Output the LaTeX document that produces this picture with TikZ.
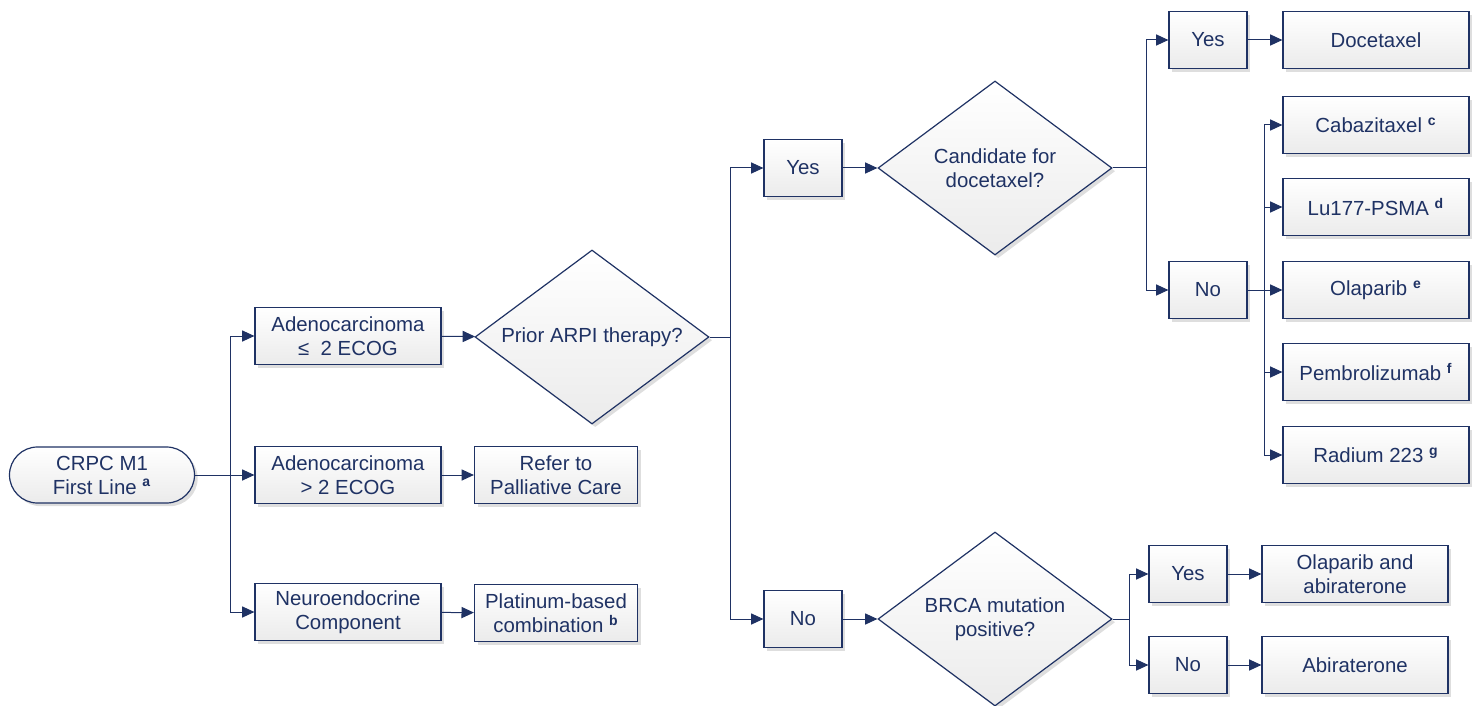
\documentclass[tikz,border=0pt]{standalone}
\usepackage{fontspec}
\setmainfont{Liberation Sans}
\usepackage{xcolor}
\usetikzlibrary{arrows.meta,shapes.geometric,shadows}
\definecolor{navy}{HTML}{1F3264}
\definecolor{boxbot}{HTML}{EBEBEB}
\tikzset{
	base/.style={draw=navy, line width=0.6pt, text=navy, top color=white, bottom color=boxbot,
			align=center, inner sep=0pt, font=\fontsize{10.2}{12}\selectfont,
			drop shadow={shadow xshift=1.6pt, shadow yshift=-1.6pt, fill=black!13, opacity=1}},
	box/.style={base, rectangle, minimum width=93pt, minimum height=28.5pt},
	smallbox/.style={base, rectangle, minimum width=39pt, minimum height=28.5pt},
	midbox/.style={base, rectangle, minimum width=81.5pt, minimum height=28.5pt},
	start/.style={base, rectangle, rounded corners=14pt, minimum width=92.5pt, minimum height=28pt},
	decision/.style={base, diamond, aspect=1.345, minimum width=117pt, minimum height=87pt},
	link/.style={draw=navy, line width=0.5pt},
	arr/.style={link, -{Triangle[length=6.2pt,width=5.6pt]}}
}
\newcommand{\fn}[1]{\ \textsuperscript{\bfseries\fontsize{7}{7}\selectfont #1}}
\begin{document}
\begin{tikzpicture}[x=0.5pt, y=-0.5pt]
	\useasboundingbox (0,0) rectangle (1478,706);
	
	\node[start] (crpc) at (102,475) {CRPC M1\\First Line\fn{a}};
	\node[box] (adenoLow) at (348,336) {Adenocarcinoma\\≤\ \ 2 ECOG};
	\node[box] (adenoHigh) at (348,475) {Adenocarcinoma\\> 2 ECOG};
	\node[box] (neuro) at (348,612) {Neuroendocrine\\Component};
	\node[midbox] (palliative) at (556,475) {Refer to\\Palliative Care};
	\node[midbox] (platinum) at (556,613) {Platinum-based\\combination\fn{b}};
	\node[decision] (arpi) at (592,337) {Prior ARPI therapy?};
	\node[smallbox] (arpiYes) at (803,168) {Yes};
	\node[smallbox] (arpiNo) at (803,619) {No};
	\node[decision] (docCand) at (995,168) {Candidate for\\docetaxel?};
	\node[decision] (brca) at (995,619) {BRCA mutation\\positive?};
	\node[smallbox] (docYes) at (1208,40) {Yes};
	\node[smallbox] (docNo) at (1208,290) {No};
	\node[box] (docetaxel) at (1376,40) {Docetaxel};
	\node[box] (cabazi) at (1376,125) {Cabazitaxel\fn{c}};
	\node[box] (lutetium) at (1376,207) {Lu177-PSMA\fn{d}};
	\node[box] (olaparib) at (1376,290) {Olaparib\fn{e}};
	\node[box] (pembro) at (1376,372) {Pembrolizumab\fn{f}};
	\node[box] (radium) at (1376,455) {Radium 223\fn{g}};
	\node[smallbox] (brcaYes) at (1188,574) {Yes};
	\node[smallbox] (brcaNo) at (1188,665) {No};
	\node[box] (olapAbi) at (1355,574) {Olaparib and\\abiraterone};
	\node[box] (abi) at (1355,665) {Abiraterone};
	
	% branch points
	\coordinate (j1) at (230,475);
	\coordinate (j2) at (730,337);
	\coordinate (j3) at (1146,168);
	\coordinate (j4) at (1264,290);
	\coordinate (j5) at (1129,619);
	
	\draw[link] (crpc.east) -- (j1);
	\draw[arr] (j1) |- (adenoLow);
	\draw[arr] (j1) -- (adenoHigh);
	\draw[arr] (j1) |- (neuro);
	\draw[arr] (adenoHigh) -- (palliative);
	\draw[arr] (neuro) -- (platinum);
	\draw[arr] (adenoLow) -- (arpi);
	
	\draw[link] (arpi.east) -- (j2);
	\draw[arr] (j2) |- (arpiYes);
	\draw[arr] (j2) |- (arpiNo);
	\draw[arr] (arpiYes) -- (docCand);
	\draw[arr] (arpiNo) -- (brca);
	
	\draw[link] (docCand.east) -- (j3);
	\draw[arr] (j3) |- (docYes);
	\draw[arr] (j3) |- (docNo);
	\draw[arr] (docYes) -- (docetaxel);
	\draw[link] (docNo.east) -- (j4);
	\foreach \t in {cabazi,lutetium,olaparib,pembro,radium}
		\draw[arr] (j4) |- (\t);
	
	\draw[link] (brca.east) -- (j5);
	\draw[arr] (j5) |- (brcaYes);
	\draw[arr] (j5) |- (brcaNo);
	\draw[arr] (brcaYes) -- (olapAbi);
	\draw[arr] (brcaNo) -- (abi);
\end{tikzpicture}
\end{document}
